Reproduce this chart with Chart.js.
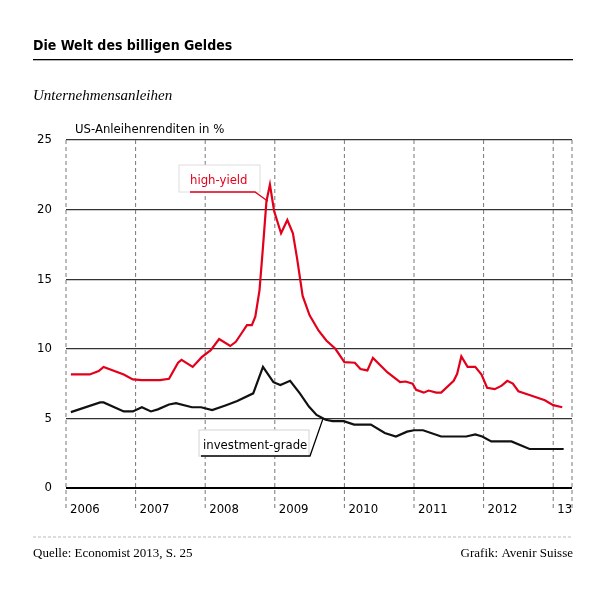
<!DOCTYPE html>
<html><head><meta charset="utf-8">
<script src="https://cdn.jsdelivr.net/npm/chart.js@4"></script>
<style>html,body{margin:0;padding:0;background:#fff}#w{width:600px;height:600px}</style>
</head><body><div id="w"><canvas id="c"></canvas></div>
<script>
const hyX=[2006.07,2006.34,2006.47,2006.54,2006.83,2006.96,2007.09,2007.35,2007.48,2007.61,2007.66,2007.82,2007.95,2008.08,2008.2,2008.36,2008.44,2008.52,2008.6,2008.67,2008.72,2008.78,2008.83,2008.88,2008.93,2008.99,2009.09,2009.18,2009.26,2009.32,2009.40,2009.5,2009.63,2009.74,2009.87,2010.0,2010.15,2010.23,2010.33,2010.41,2010.62,2010.8,2010.88,2010.98,2011.03,2011.14,2011.21,2011.32,2011.39,2011.57,2011.62,2011.68,2011.77,2011.88,2011.97,2012.05,2012.16,2012.26,2012.34,2012.42,2012.5,2012.68,2012.88,2013.0,2013.13];
const hyY=[8.16,8.16,8.4,8.7,8.16,7.8,7.75,7.75,7.85,9.0,9.2,8.7,9.4,9.9,10.7,10.2,10.5,11.1,11.7,11.7,12.3,14.2,17.3,20.6,21.8,19.9,18.3,19.25,18.3,16.5,13.8,12.4,11.3,10.6,10.0,9.04,9.0,8.55,8.45,9.35,8.3,7.6,7.65,7.5,7.05,6.85,7.0,6.85,6.85,7.7,8.2,9.45,8.7,8.7,8.15,7.2,7.1,7.35,7.7,7.5,6.95,6.65,6.3,5.95,5.8];
const igX=[2006.07,2006.49,2006.54,2006.83,2006.96,2007.09,2007.22,2007.32,2007.48,2007.58,2007.81,2007.94,2008.1,2008.3,2008.46,2008.69,2008.83,2008.98,2009.08,2009.22,2009.36,2009.49,2009.6,2009.73,2009.83,2009.99,2010.14,2010.38,2010.58,2010.74,2010.9,2011.0,2011.13,2011.39,2011.75,2011.88,2011.98,2012.11,2012.4,2012.66,2013.15];
const igY=[5.45,6.15,6.15,5.5,5.5,5.8,5.5,5.65,6.0,6.1,5.8,5.8,5.6,5.95,6.25,6.8,8.7,7.6,7.4,7.7,6.8,5.85,5.25,4.9,4.8,4.8,4.55,4.55,3.95,3.7,4.05,4.15,4.15,3.7,3.7,3.85,3.7,3.35,3.35,2.8,2.8];
const yearTicks=[2006,2007,2008,2009,2010,2011,2012,2013,2013.27];
const yTicks=[0,5,10,15,20,25];
const F='"DejaVu Sans Condensed","DejaVu Sans",sans-serif';
const pts=(xs,ys)=>xs.map((x,i)=>({x,y:ys[i]}));
const deco={id:'deco',afterDraw(ch){
 const c=ch.ctx,xs=ch.scales.x,ys=ch.scales.y;
 c.save();
 c.fillStyle='#000';c.font='bold 14px '+F;c.textBaseline='alphabetic';c.textAlign='left';
 c.fillText('Die Welt des billigen Geldes',33,50);
 c.fillRect(33,59,540,1.3);
 c.font='italic 15px "Liberation Serif",serif';c.fillText('Unternehmensanleihen',33,100);
 c.font='13px '+F;c.fillText('US-Anleihenrenditen in %',75,133);
 c.strokeStyle='#bbb';c.setLineDash([3,2]);c.lineWidth=1;c.beginPath();c.moveTo(33,537);c.lineTo(573,537);c.stroke();c.setLineDash([]);
 c.font='13px "Liberation Serif",serif';c.fillText('Quelle: Economist 2013, S. 25',33,557);
 c.textAlign='right';c.fillText('Grafik: Avenir Suisse',573,557);
 c.fillStyle='#fff';c.strokeStyle='#ddd';c.fillRect(179,165,81,27);c.strokeRect(179,165,81,27);
 c.fillStyle='#e3001b';c.textAlign='left';c.font='13px '+F;c.fillText('high-yield',190,184);
 c.strokeStyle='#e3001b';c.lineWidth=1.3;c.beginPath();c.moveTo(190,192);c.lineTo(255,192);
 c.lineTo(xs.getPixelForValue(2008.9),ys.getPixelForValue(20.6));c.stroke();
 c.fillStyle='#fff';c.strokeStyle='#ddd';c.fillRect(199,430,110,26);c.strokeRect(199,430,110,26);
 c.fillStyle='#000';c.fillText('investment-grade',203,449);
 c.strokeStyle='#000';c.beginPath();c.moveTo(201,456);c.lineTo(310,456);
 c.lineTo(xs.getPixelForValue(2009.69),ys.getPixelForValue(4.95));c.stroke();
 c.restore();
}};
new Chart(document.getElementById('c'),{type:'line',
 data:{datasets:[
  {data:pts(hyX,hyY),borderColor:'#e3001b',borderWidth:2.2,pointRadius:0,tension:0},
  {data:pts(igX,igY),borderColor:'#111',borderWidth:2.2,pointRadius:0,tension:0}]},
 options:{responsive:true,maintainAspectRatio:false,animation:false,
  layout:{padding:{left:28,right:28,top:140,bottom:84}},
  plugins:{legend:{display:false},tooltip:{enabled:false}},
  scales:{
   x:{type:'linear',min:2006,max:2013.27,
    afterBuildTicks:a=>{a.ticks=yearTicks.map(v=>({value:v}));},
    afterFit:a=>{a.height=28;},
    grid:{display:false},
    border:{display:false},
    ticks:{align:'start',labelOffset:4,padding:6,color:'#000',font:{family:F,size:13},maxRotation:0,autoSkip:false,
     callback:v=>v===2013?'13':(Number.isInteger(v)?String(v):'')}},
   y:{min:0,max:25,
    afterBuildTicks:a=>{a.ticks=yTicks.map(v=>({value:v}));},
    afterFit:a=>{a.width=38;},
    grid:{color:c=>c.tick.value===0?'#000':'#333',lineWidth:c=>c.tick.value===0?2:1.3,drawTicks:false},
    border:{display:false},
    ticks:{padding:14,color:'#000',font:{family:F,size:13}}}
  }},
 plugins:[{id:'dash',beforeDatasetsDraw(ch){
   const c=ch.ctx,xs=ch.scales.x,a=ch.chartArea;c.save();c.strokeStyle='#777';c.lineWidth=1;c.setLineDash([4,3]);
   yearTicks.forEach(v=>{const x=xs.getPixelForValue(v);c.beginPath();c.moveTo(x,a.top);c.lineTo(x,a.bottom+22);c.stroke();});
   c.restore();}},deco]
});
</script></body></html>
